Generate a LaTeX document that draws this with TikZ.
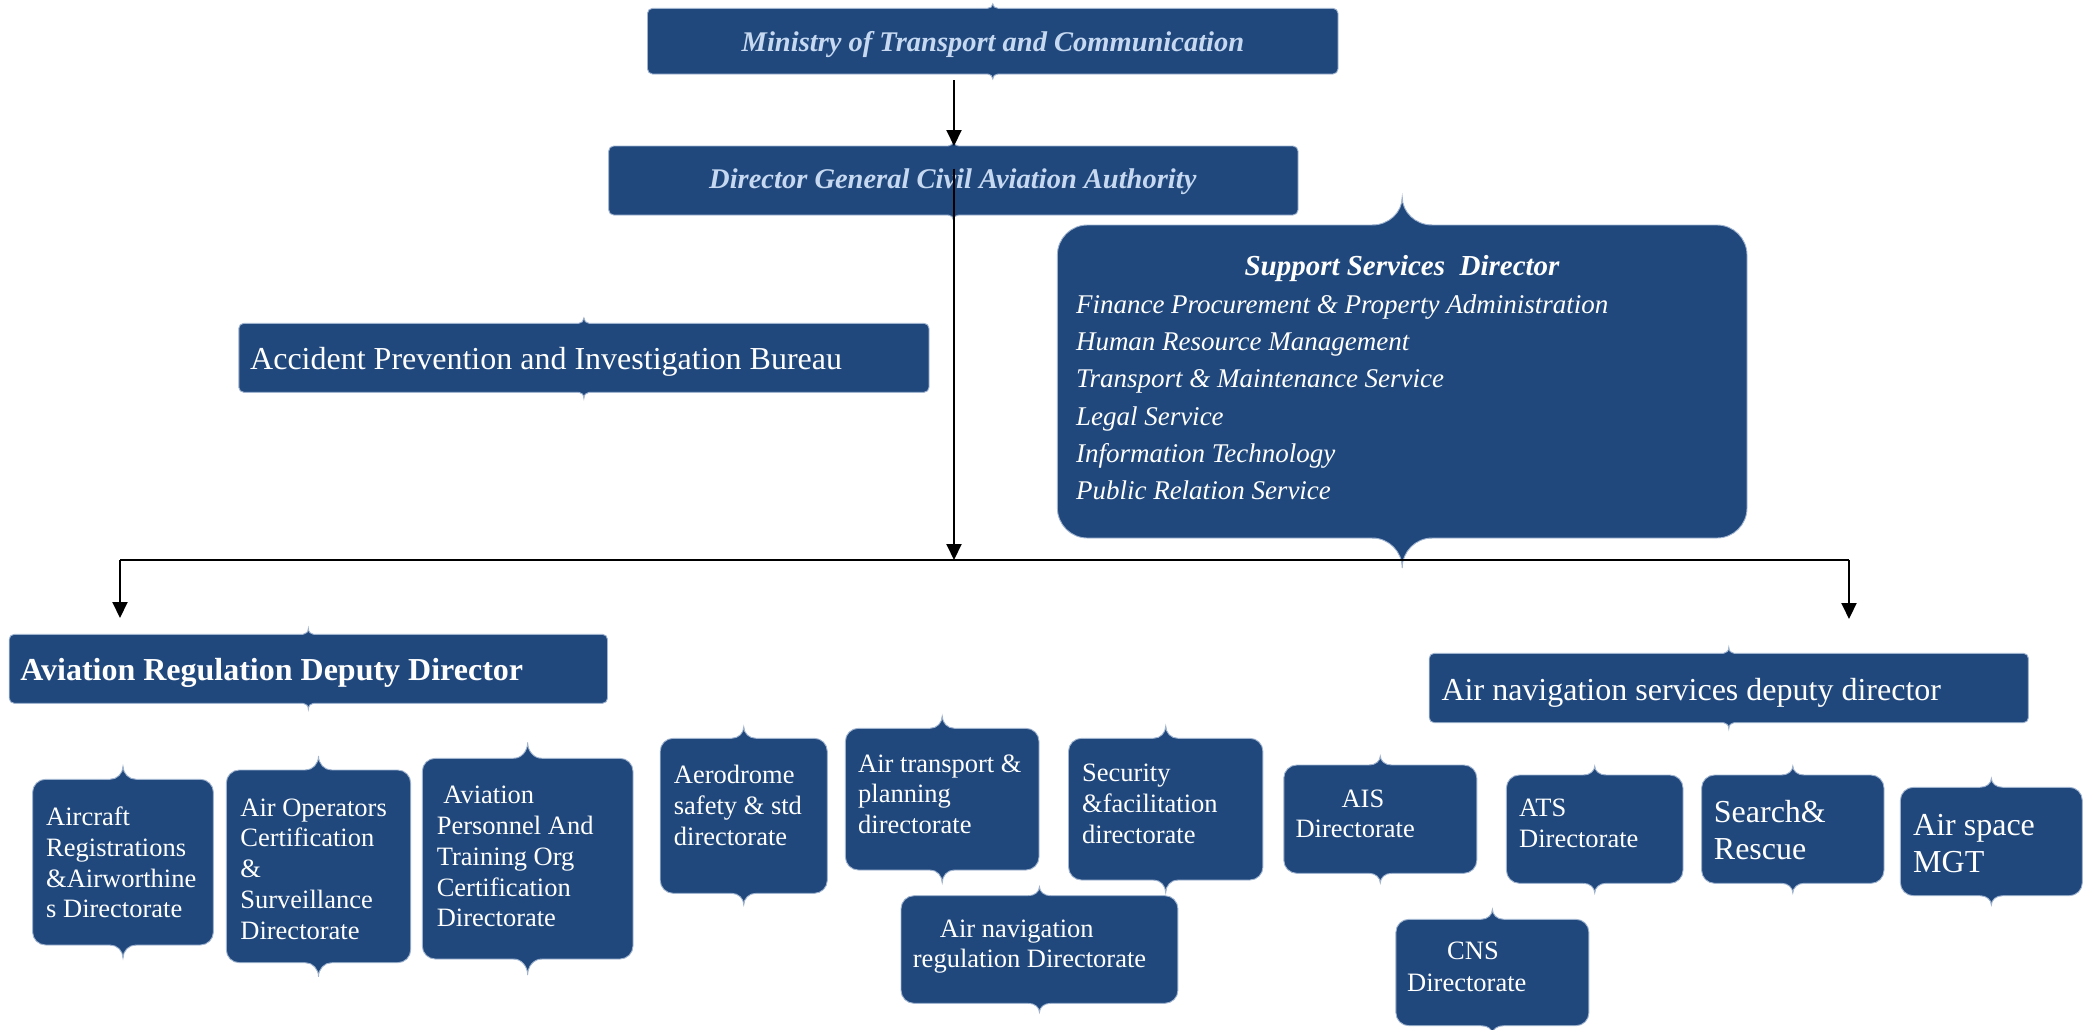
\documentclass[tikz,border=0pt]{standalone}
\usepackage{fontspec}
\setmainfont{Liberation Serif}
\usetikzlibrary{arrows.meta,calc}

\definecolor{boxblue}{RGB}{32,72,125}
\definecolor{boxedge}{RGB}{160,180,208}
\definecolor{titleblue}{RGB}{198,217,241}

% rounded box given by its corners (left, top, right, bottom) and corner radius
\newcommand\orgnode[6]{%
  \node[orgbox, rounded corners=#6, minimum width={#4-#2}, minimum height={#5-#3}]
    (#1) at ({(#2+#4)/2},{(#3+#5)/2}) {};}

% brace-like peaks at the middle of the top and bottom edges
% #1 node, #2 half width, #3 top peak height, #4 bottom peak height
\newcommand\boxtips[4]{%
  \fill[boxblue] ($(#1.north)+(-#2,0)$)
     .. controls ($(#1.north)+(-0.45*#2,0)$) and ($(#1.north)+(0,-0.45*#3)$) .. ($(#1.north)+(0,-#3)$)
     .. controls ($(#1.north)+(0,-0.45*#3)$) and ($(#1.north)+(0.45*#2,0)$) .. ($(#1.north)+(#2,0)$)
     -- ($(#1.north)+(#2,2)$) -- ($(#1.north)+(-#2,2)$) -- cycle;
  \draw[tipedge] ($(#1.north)+(-#2,0)$)
     .. controls ($(#1.north)+(-0.45*#2,0)$) and ($(#1.north)+(0,-0.45*#3)$) .. ($(#1.north)+(0,-#3)$)
     .. controls ($(#1.north)+(0,-0.45*#3)$) and ($(#1.north)+(0.45*#2,0)$) .. ($(#1.north)+(#2,0)$);
  \fill[boxblue] ($(#1.south)+(-#2,0)$)
     .. controls ($(#1.south)+(-0.45*#2,0)$) and ($(#1.south)+(0,0.45*#4)$) .. ($(#1.south)+(0,#4)$)
     .. controls ($(#1.south)+(0,0.45*#4)$) and ($(#1.south)+(0.45*#2,0)$) .. ($(#1.south)+(#2,0)$)
     -- ($(#1.south)+(#2,-2)$) -- ($(#1.south)+(-#2,-2)$) -- cycle;
  \draw[tipedge] ($(#1.south)+(-#2,0)$)
     .. controls ($(#1.south)+(-0.45*#2,0)$) and ($(#1.south)+(0,0.45*#4)$) .. ($(#1.south)+(0,#4)$)
     .. controls ($(#1.south)+(0,0.45*#4)$) and ($(#1.south)+(0.45*#2,0)$) .. ($(#1.south)+(#2,0)$);}

\tikzset{
  orgbox/.style={fill=boxblue, draw=boxedge, line width=0.9pt, inner sep=0pt, outer sep=0pt},
  tipedge/.style={draw=boxedge, line width=0.9pt},
  headtxt/.style={anchor=base, inner sep=0pt, text=titleblue,
    font=\fontsize{28.5pt}{34pt}\selectfont\bfseries\itshape},
  subtitle/.style={anchor=base, inner sep=0pt, text=white,
    font=\fontsize{29pt}{35pt}\selectfont\bfseries\itshape},
  subitem/.style={anchor=base west, inner sep=0pt, text=white,
    font=\fontsize{27pt}{33pt}\selectfont\itshape},
  unittxt/.style={anchor=north west, inner sep=0pt, align=left, text=white,
    font=\fontsize{26.5pt}{30.8pt}\selectfont},
  largetxt/.style={anchor=north west, inner sep=0pt, align=left, text=white,
    font=\fontsize{32pt}{37.5pt}\selectfont},
  link/.style={draw=black, line width=2pt},
  arrowlink/.style={link, -{Triangle[length=16pt,width=15pt]}}
}

\begin{document}
\begin{tikzpicture}[x=1pt,y=-1pt]
\useasboundingbox (0,0) rectangle (2089,1029);

% --- top level boxes
\orgnode{min}{647.5}{8.3}{1338}{74}{5pt}
\boxtips{min}{5}{4.5}{5}
\orgnode{dg}{608.7}{146}{1298}{215}{5pt}
\boxtips{dg}{5}{5}{5}
\orgnode{acc}{238.8}{323.3}{929}{392.3}{5pt}
\boxtips{acc}{5}{5.5}{6}
\orgnode{sup}{1057.4}{225}{1747}{538}{30pt}
\boxtips{sup}{30}{28}{30}
\orgnode{avreg}{9.2}{634.3}{607.5}{703.3}{5pt}
\boxtips{avreg}{5}{6}{6}
\orgnode{ans}{1429.2}{653.3}{2028.4}{722.7}{5pt}
\boxtips{ans}{5}{6}{6}

% --- aviation regulation directorates
\orgnode{acr}{32.6}{779.3}{213.4}{945}{13pt}
\boxtips{acr}{13}{13}{13}
\orgnode{aoc}{226.3}{770}{410.7}{962.7}{13pt}
\boxtips{aoc}{13}{14}{14}
\orgnode{apt}{422.3}{758.3}{633}{959}{13pt}
\boxtips{apt}{14}{16}{16}
\orgnode{aer}{660.2}{738.3}{827.3}{893.3}{13pt}
\boxtips{aer}{12}{11.5}{11.5}
\orgnode{atp}{845.4}{728.3}{1039}{870}{13pt}
\boxtips{atp}{12}{12.3}{12.7}
\orgnode{sec}{1068.5}{738.3}{1262.9}{880}{13pt}
\boxtips{sec}{12}{12.3}{12.7}
\orgnode{anr}{901}{895.7}{1177.9}{1003.3}{13pt}
\boxtips{anr}{11}{9}{9}

% --- air navigation services directorates
\orgnode{ais}{1283.8}{765}{1476.8}{873.3}{13pt}
\boxtips{ais}{11}{9}{9.7}
\orgnode{ats}{1506.4}{775}{1683}{883.3}{13pt}
\boxtips{ats}{11}{9}{9.7}
\orgnode{snr}{1701.6}{775}{1884}{883.3}{13pt}
\boxtips{snr}{11}{9}{9.7}
\orgnode{asm}{1900.4}{787.3}{2082.3}{895.7}{13pt}
\boxtips{asm}{11}{9}{9.3}
\orgnode{cns}{1395.9}{919.3}{1588.9}{1025.7}{13pt}
\boxtips{cns}{11}{10}{8}

% --- texts
\node[headtxt] (t-min) at (993,51.5) {Ministry of Transport and Communication};
\node[headtxt] (t-dg) at (952.8,188) {Director General Civil Aviation Authority};

\node[subtitle] (t-sup) at (1402,275) {Support Services~ Director};
\foreach \i/\txt in {0/{Finance Procurement \& Property Administration},
                     1/{Human Resource Management},
                     2/{Transport \& Maintenance Service},
                     3/{Legal Service},
                     4/{Information Technology},
                     5/{Public Relation Service}}
  \node[subitem] (t-sup-\i) at (1075.8,{313.3+37.3*\i}) {\txt};

\node[largetxt] (t-acc) at (250,347.3) {Accident Prevention and Investigation Bureau};
\node[largetxt, font=\fontsize{32pt}{37.5pt}\selectfont\bfseries] (t-avreg) at (20.2,658)
  {Aviation Regulation Deputy Director};
\node[largetxt] (t-ans) at (1441.4,678) {Air navigation services deputy director};

\node[unittxt] (t-acr) at (46,806.7) {Aircraft\\Registrations\\\&Airworthine\\s Directorate};
\node[unittxt] (t-aoc) at (240.2,798.3) {Air Operators\\Certification\\\&\\Surveillance\\Directorate};
\node[unittxt] (t-apt) at (436.6,786) {\hspace*{6.6pt}Aviation\\Personnel And\\Training Org\\Certification\\Directorate};
\node[unittxt] (t-aer) at (673.7,765) {Aerodrome\\safety \& std\\directorate};
\node[unittxt] (t-atp) at (858,754.3) {Air transport \&\\planning\\directorate};
\node[unittxt] (t-sec) at (1082,764) {Security\\\&facilitation\\directorate};
\node[unittxt, font=\fontsize{26.5pt}{29.5pt}\selectfont] (t-anr) at (912.7,920)
  {\hspace*{27pt}Air navigation\\regulation Directorate};

\node[unittxt] (t-ais) at (1295.4,789.3) {\hspace*{46pt}AIS\\Directorate};
\node[unittxt] (t-ats) at (1519,799) {ATS\\Directorate};
\node[largetxt] (t-snr) at (1713.7,799.7) {Search\&\\Rescue};
\node[largetxt] (t-asm) at (1913,814) {Air space\\MGT};
\node[unittxt, font=\fontsize{26.5pt}{31.6pt}\selectfont] (t-cns) at (1407,941.7)
  {\hspace*{40pt}CNS\\Directorate};

% --- connectors
\coordinate (busM) at (954,560);
\coordinate (busL) at (120,560);
\coordinate (busR) at (1849,560);
\coordinate (avregIn) at (120,618);
\coordinate (ansIn) at (1849,619);

\draw[arrowlink] ($(min.south -| busM)+(0,6)$) -- (dg.north -| busM);
\draw[arrowlink] ($(dg.center -| busM)+(0,-12)$) -- (busM);
\draw[link] (busL) -- (busR);
\draw[arrowlink] (busL) -- (avregIn);
\draw[arrowlink] (busR) -- (ansIn);
\end{tikzpicture}
\end{document}
